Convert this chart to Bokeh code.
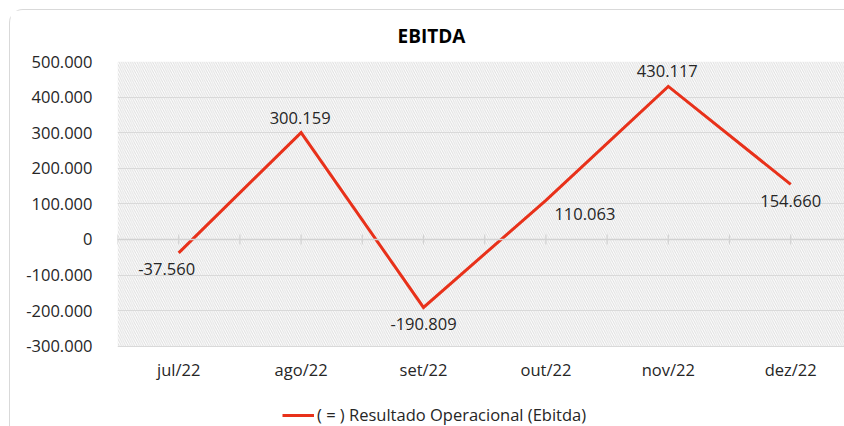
import numpy as np
from bokeh.plotting import figure
from bokeh.models import (ColumnDataSource, FixedTicker, Legend, LegendItem,
                          BoxAnnotation, Span, Range1d)
from bokeh.embed import file_html
from bokeh.resources import INLINE
from bokeh.core.properties import value

# ---------------- data ----------------
title_text = "EBITDA"
series_name = "( = ) Resultado Operacional (Ebitda)"
categories = ["jul/22", "ago/22", "set/22", "out/22", "nov/22", "dez/22"]
ebitda = [-37560, 300159, -190809, 110063, 430117, 154660]
value_labels = ["-37.560", "300.159", "-190.809", "110.063", "430.117", "154.660"]
label_side = ["below_left", "above", "below", "below_right", "above", "below"]
y_ticks = [-300000, -200000, -100000, 0, 100000, 200000, 300000, 400000, 500000]
y_tick_labels = ["-300.000", "-200.000", "-100.000", "0", "100.000",
                 "200.000", "300.000", "400.000", "500.000"]

# ---------------- styling ----------------
FONT = "Open Sans"
TXT = "#262626"
RED = "#e8311a"
GRID = "#d9d9d9"
side_offsets = {"above": (-1, -15), "below": (0, 17), "below_left": (-12, 16),
                "below_right": (39, 14)}

x = list(range(len(categories)))
src = ColumnDataSource(dict(
    x=x, y=ebitda, lab=value_labels,
    dx=[side_offsets[s][0] for s in label_side],
    dy=[side_offsets[s][1] for s in label_side],
))
cat_src = ColumnDataSource(dict(x=x, y=[y_ticks[0]] * len(x), lab=categories))

MX, MY = 9, 9
W, H = 844 - MX, 426 - MY
cat_px = 122.4
px_per_unit_y = 284 / (y_ticks[-1] - y_ticks[0])
frame_left_px = 116 - MX
frame_top_px = 51
x_end = -0.5 + (W - frame_left_px) / cat_px
# plotting frame runs to the bottom of the canvas; the value area stops at y_ticks[0]
y_start = y_ticks[-1] - (H - 1 - frame_top_px) / px_per_unit_y

p = figure(width=W, height=H, output_backend="svg", toolbar_location=None,
           x_range=Range1d(-0.5, x_end), y_range=Range1d(y_start, y_ticks[-1]),
           min_border_left=frame_left_px, min_border_right=0,
           min_border_top=frame_top_px, min_border_bottom=0,
           margin=(MY, 0, 0, MX),
           styles={"border-top": "1px solid #d9d9d9", "border-left": "1px solid #d9d9d9",
                   "border-top-left-radius": "14px"})
p.outline_line_color = None
p.background_fill_color = "white"
p.border_fill_color = "white"

# title
p.title.text = title_text
p.title.text_font = FONT
p.title.text_font_size = "19px"
p.title.text_font_style = "bold"
p.title.text_color = "black"
p.title.align = "left"
p.title.offset = 280
p.title.vertical_align = "top"
p.title.standoff = 22

# hatched plot area (value area only)
p.add_layout(BoxAnnotation(bottom=y_ticks[0], fill_color=None, fill_alpha=0, line_color=None,
                           hatch_pattern="\\", hatch_color="#dedede",
                           hatch_weight=1, hatch_scale=4.5, level="image"))

# grid
p.xgrid.grid_line_color = None
p.ygrid.grid_line_color = GRID
p.ygrid.grid_line_width = 1

# axes
p.yaxis.ticker = FixedTicker(ticks=y_ticks)
p.yaxis.major_label_overrides = {t: l for t, l in zip(y_ticks, y_tick_labels)}
p.yaxis.axis_line_color = None
p.yaxis.major_tick_line_color = None
p.yaxis.minor_tick_line_color = None
p.yaxis.major_label_text_font = FONT
p.yaxis.major_label_text_font_size = "16.5px"
p.yaxis.major_label_text_color = TXT
p.yaxis.major_label_standoff = 19
p.xaxis.visible = False

# category labels under the value area
p.text("x", "y", text="lab", source=cat_src, y_offset=23,
       text_font=value(FONT), text_font_size="16.5px", text_color=TXT,
       text_align="center", text_baseline="middle")

# zero line with category ticks
p.add_layout(Span(location=0, dimension="width", line_color="#d2d2d2", line_width=1.5))
tick_x = [t for t in np.arange(-0.5, len(categories), 0.5) if t <= x_end]
p.scatter(x=tick_x, y=[0] * len(tick_x), marker="dash", angle=np.pi / 2, size=10,
          line_color="#d2d2d2", line_width=1.2)

# series
r = p.line("x", "y", source=src, line_color=RED, line_width=3, line_join="miter")

p.text("x", "y", text="lab", source=src, x_offset="dx", y_offset="dy",
       text_font=value(FONT), text_font_size="16.5px", text_color=TXT,
       text_align="center", text_baseline="middle")

legend = Legend(items=[LegendItem(label=series_name, renderers=[r])],
                location=(165, 1), orientation="horizontal",
                glyph_width=32, glyph_height=16, label_standoff=3,
                padding=0, margin=0, border_line_color=None,
                background_fill_alpha=0,
                label_text_font=FONT, label_text_font_size="16.5px",
                label_text_color=TXT)
p.add_layout(legend, "center")

open("out.html", "w").write(file_html(p, INLINE))
